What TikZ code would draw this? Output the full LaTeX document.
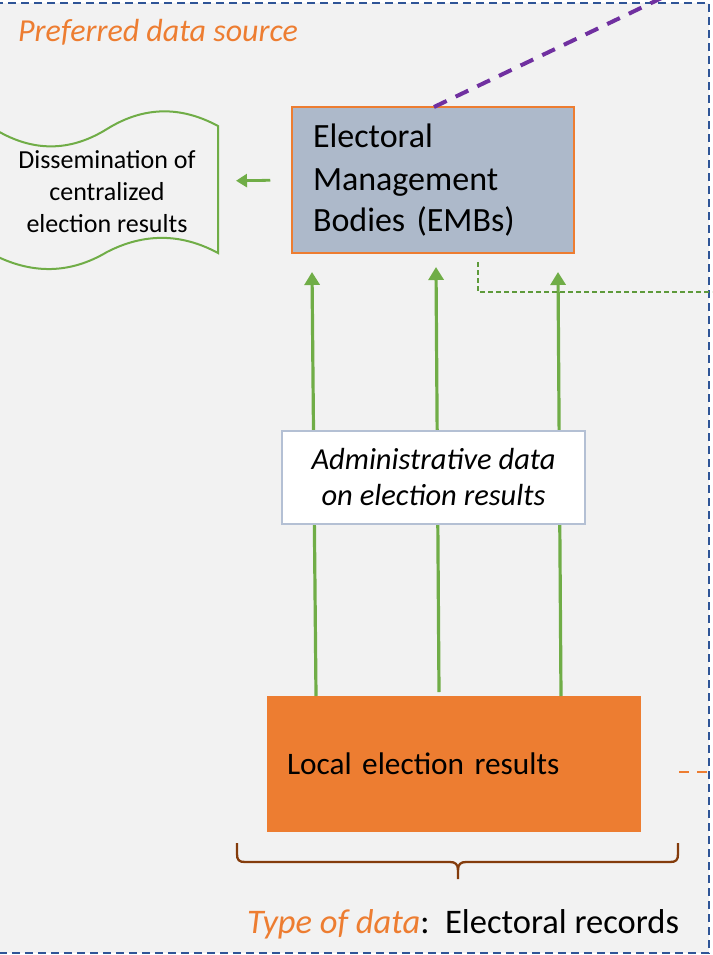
\documentclass[tikz,border=0pt]{standalone}
\usepackage{fontspec}
\setmainfont{Carlito}
\usetikzlibrary{arrows.meta,calc}
\definecolor{bgray}{HTML}{F2F2F2}
\definecolor{bordblue}{HTML}{2F5597}
\definecolor{accorange}{HTML}{ED7D31}
\definecolor{embfill}{HTML}{ADB9CA}
\definecolor{accgreen}{HTML}{70AD47}
\definecolor{darkgreen}{HTML}{5E9A3A}
\definecolor{purp}{HTML}{7030A0}
\definecolor{brown}{HTML}{843C0C}
\definecolor{adminborder}{HTML}{B4C0D4}
\tikzset{
  outerborder/.style={draw=bordblue,line width=2pt,dash pattern=on 8pt off 5pt},
  embbox/.style={draw=accorange,line width=1.5pt,fill=embfill,minimum width=282pt,minimum height=146pt,
    inner xsep=21pt,text width=240pt,align=left,font=\fontsize{34}{40.5}\selectfont},
  adminbox/.style={draw=adminborder,line width=1.5pt,fill=white,minimum width=303pt,minimum height=93pt,
    align=center,font=\fontsize{30.5}{36}\selectfont\itshape},
  localbox/.style={fill=accorange,minimum width=374pt,minimum height=136pt,inner xsep=20pt,
    text width=334pt,align=left,font=\fontsize{31.3}{39}\selectfont},
  tapetext/.style={align=center,font=\fontsize{26}{32}\selectfont},
  garrow/.style={draw=accgreen,line width=3.2pt,-{Triangle[length=13pt,width=15pt]}},
  garrowsmall/.style={draw=accgreen,line width=2.8pt,-{Triangle[length=11pt,width=13pt]}},
  tapeline/.style={draw=accgreen,line width=2pt},
  purpdash/.style={draw=purp,line width=4pt,dash pattern=on 14pt off 10pt},
  greendash/.style={draw=darkgreen,line width=1.2pt,dash pattern=on 5pt off 3pt},
  orangedash/.style={draw=accorange,line width=2.5pt,dash pattern=on 10pt off 8pt},
  bracestyle/.style={draw=brown,line width=2.3pt,line join=round}
}
\begin{document}
\begin{tikzpicture}[x=1pt,y=-1pt]
\useasboundingbox (0,0) rectangle (712,955);
\clip (0,0) rectangle (712,955);
\fill[white] (0,0) rectangle (712,955);
\fill[bgray] (-5,3) rectangle (709,953);
\draw[outerborder] (-5,3) -- (709,3) -- (709,953) -- (-5,953);

% title
\node[anchor=base west,inner sep=0,text=accorange,font=\fontsize{32}{36}\selectfont\itshape] (pref) at (18,42) {Preferred data source};

% EMB box
\node[embbox] (emb) at (433,180) {\vspace{3pt}Electoral\\Management\\Bodies (EMBs)};

% punched tape shape
\draw[tapeline] (-4,130)
  .. controls (33,152) and (70,152) .. (107,129)
  .. controls (144,106) and (181,106) .. (218,126)
  -- (218,253)
  .. controls (181,233) and (144,233) .. (107,252)
  .. controls (70,274) and (33,274) .. (-4,256);
\node[tapetext] (tape) at (107,192) {Dissemination of\\centralized\\election results};
\coordinate (tapeedge) at (218,181);

\draw[garrowsmall,shorten <=21pt,shorten >=18pt] (emb.west) -- (tapeedge);

% local box
\node[localbox] (local) at (454,764) {Local election results};

% arrows
\coordinate (s1) at (316,696);
\coordinate (t1) at (312,272);
\coordinate (s2) at (439,692);
\coordinate (t2) at (436,267);
\coordinate (s3) at (561,696);
\coordinate (t3) at (558,272);
\draw[garrow] (s1) -- (t1);
\draw[garrow] (s2) -- (t2);
\draw[garrow] (s3) -- (t3);

% admin box
\node[adminbox] (admin) at (433.5,477.5) {Administrative data\\on election results};

% dashed connectors leaving the frame
\coordinate (pend) at (670,-6);
\draw[purpdash] (434,107) -- (pend);
\coordinate (g1) at (478,262);
\coordinate (g2) at (478,292);
\coordinate (g3) at (712,292);
\draw[greendash] (g1) -- (g2) -- (g3);
\coordinate (o1) at (679,772);
\coordinate (o2) at (712,772);
\draw[orangedash] (o1) -- (o2);

% brace
\draw[bracestyle] (237,843) -- (237,854) .. controls (237,860) and (239,862) .. (245,862)
  -- (450,862) .. controls (455,862) and (458,864) .. (458,870) -- (458,879);
\draw[bracestyle] (678,843) -- (678,854) .. controls (678,860) and (676,862) .. (670,862)
  -- (466,862) .. controls (461,862) and (458,864) .. (458,870);

% bottom label
\node[anchor=base west,inner sep=0,font=\fontsize{34.5}{39}\selectfont] (type) at (247,933)
  {\textcolor{accorange}{\itshape Type of data}:\ \ Electoral records};
\end{tikzpicture}
\end{document}
